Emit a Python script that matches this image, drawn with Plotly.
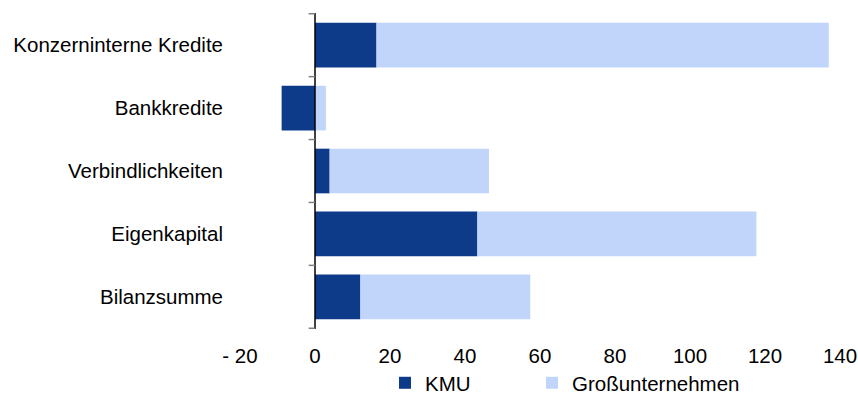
import plotly.graph_objects as go

# data
categories = ["Konzerninterne Kredite", "Bankkredite", "Verbindlichkeiten",
              "Eigenkapital", "Bilanzsumme"]
kmu = [16.4, -8.9, 3.9, 43.3, 12.1]
gross = [120.6, 2.9, 42.5, 74.4, 45.3]
tick_vals = [-20, 0, 20, 40, 60, 80, 100, 120, 140]
tick_text = ["- 20", "0", "20", "40", "60", "80", "100", "120", "140"]

DARK = "#0D3A89"
LIGHT = "#C0D5F9"
FONT = "Liberation Sans, Arial, sans-serif"

fig = go.Figure()
fig.add_trace(go.Bar(y=categories, x=kmu, orientation="h", name="KMU",
                     marker=dict(color=DARK, line=dict(width=0)),
                     legend="legend", showlegend=True))
fig.add_trace(go.Bar(y=categories, x=gross, orientation="h", name="Großunternehmen",
                     marker=dict(color=LIGHT, line=dict(width=0)),
                     legend="legend2", showlegend=True))

# vertical axis line at x = 0 plus small ticks at category boundaries
shapes = [dict(type="line", xref="x", yref="paper", x0=0, x1=0, y0=0, y1=1,
               line=dict(color="black", width=1.5), layer="above")]
for i in range(len(categories) + 1):
    shapes.append(dict(type="line", xref="x", yref="y", x0=-1.7, x1=0,
                       y0=i - 0.5, y1=i - 0.5,
                       line=dict(color="#808080", width=1.5), layer="above"))

leg = dict(orientation="h", xanchor="left", xref="container",
           yref="container", y=0.045, yanchor="middle",
           font=dict(size=20.5), itemwidth=30, bgcolor="rgba(0,0,0,0)")

fig.update_layout(
    width=858, height=401,
    showlegend=True,
    margin=dict(l=240, r=18, t=13, b=72, autoexpand=False),
    barmode="relative", bargap=0.29,
    plot_bgcolor="white", paper_bgcolor="white",
    font=dict(family=FONT, size=20.5, color="black"),
    shapes=shapes,
    xaxis=dict(range=[-20, 140], tickvals=tick_vals, ticktext=tick_text,
               showgrid=False, zeroline=False, showline=False, ticks="",
               ticklabelstandoff=12, automargin=False),
    yaxis=dict(autorange="reversed", showgrid=False, zeroline=False,
               showline=False, ticks="", ticklabelstandoff=16, automargin=False),
    legend=dict(leg, x=385 / 858),
    legend2=dict(leg, x=532 / 858),
)

fig.write_html("out.html", config={"displayModeBar": False},
               post_script="document.body.style.margin='0';")
